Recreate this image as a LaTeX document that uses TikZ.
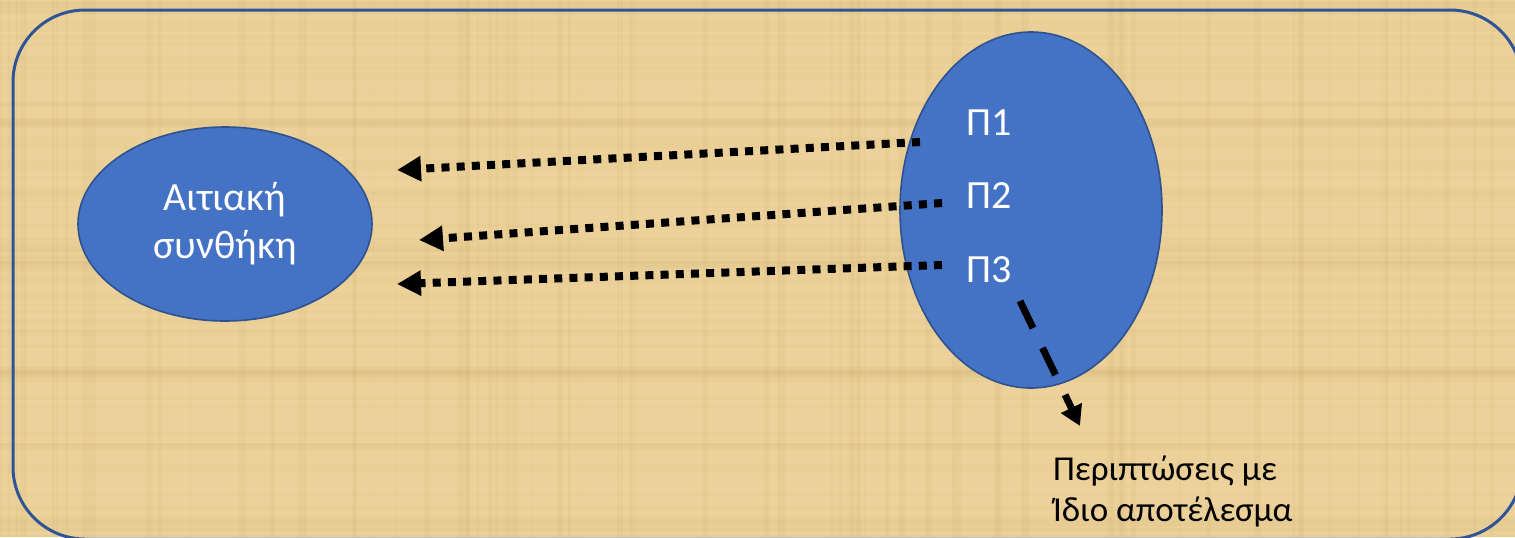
\documentclass[tikz,border=0pt]{standalone}
\usepackage{fontspec}
\setmainfont{Carlito}
\usetikzlibrary{arrows.meta,shapes.geometric,calc}
\definecolor{papyrus}{RGB}{236,210,154}
\definecolor{fibre}{RGB}{196,160,95}
\definecolor{ovalblue}{RGB}{68,114,196}
\definecolor{ovaledge}{RGB}{47,82,143}
\definecolor{frameblue}{RGB}{47,85,151}
\tikzset{
	oval/.style={ellipse,draw=ovaledge,fill=ovalblue,line width=0.8pt,inner sep=0pt},
	ovaltext/.style={text=white,align=center,font=\fontsize{20}{24}\selectfont},
	dotarrow/.style={line width=4pt,dash pattern=on 4pt off 3.6pt,-{Triangle[length=12pt,width=12pt]}},
	dasharrow/.style={line width=3.5pt,dash pattern=on 15pt off 11pt,-{Triangle[length=10pt,width=11pt]}}
}
\begin{document}
\begin{tikzpicture}[x=0.5pt,y=-0.5pt, line join=round]
	\useasboundingbox (0,0) rectangle (1515,537);
	\fill[papyrus] (0,0) rectangle (1515,537);
	% texture of the papyrus
	\pgfmathsetseed{11}
	\foreach \i in {1,...,90}{
		\pgfmathsetmacro\xx{rnd*1515} \pgfmathsetmacro\yy{rnd*537}
		\draw[fibre,opacity=0.08,line width=rnd*4pt] (\xx,0)--(\xx,537);
		\draw[fibre,opacity=0.06,line width=rnd*4pt] (0,\yy)--(1515,\yy);
	}
	\draw[frameblue,line width=1.5pt,rounded corners=36pt] (13,10) rectangle (1522,539);
	% the two ovals
	\node[oval,minimum width=147pt,minimum height=97pt] (cause) at (225,224) {};
	\node[ovaltext] at (cause) {Αιτιακή\\συνθήκη};
	\node[oval,minimum width=131pt,minimum height=178pt] (set) at (1031,210) {};
	\node[ovaltext] (p1) at (989,123) {Π1};
	\node[ovaltext] (p2) at (989,196) {Π2};
	\node[ovaltext] (p3) at (989,270) {Π3};
	\node[anchor=north west,align=left,font=\fontsize{17.5}{20.5}\selectfont] (cases) at (1046,449) {Περιπτώσεις με\\Ίδιο αποτέλεσμα};
	% arrows
	\coordinate (e1) at (397,170);
	\coordinate (e2) at (419,240);
	\coordinate (e3) at (397,284);
	\draw[dotarrow] ($(p1)+(-69,19)$)--(e1);
	\draw[dotarrow] ($(p2)+(-47,7)$)--(e2);
	\draw[dotarrow] ($(p3)+(-47,-5)$)--(e3);
	\draw[dasharrow] ($(p3)+(31,31)$)--($(cases.north west)+(34,-23)$);
\end{tikzpicture}
\end{document}
